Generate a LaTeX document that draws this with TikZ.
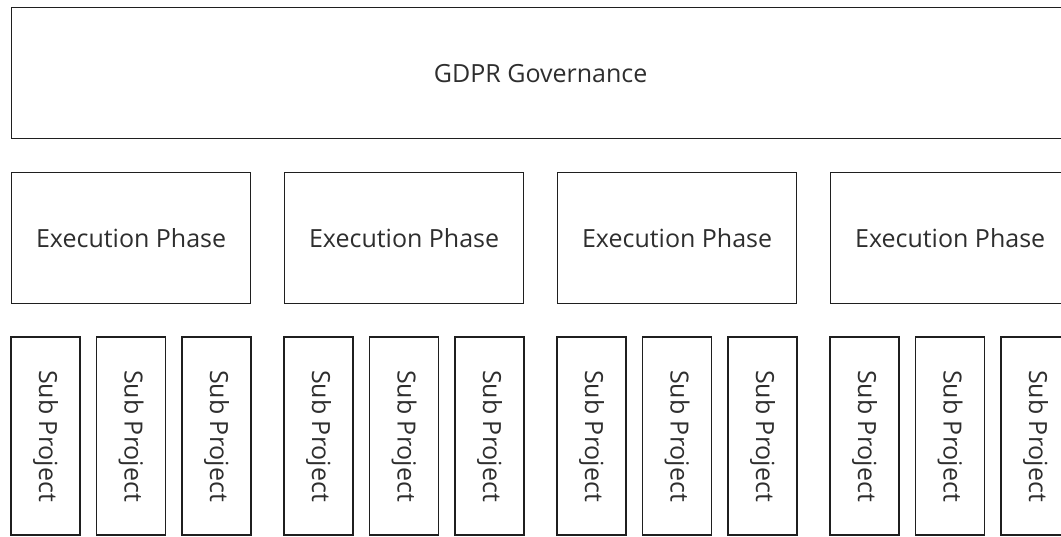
\documentclass[tikz,border=0pt]{standalone}
\usepackage{fontspec}
\setmainfont{Open Sans}
\begin{document}
\begin{tikzpicture}[x=1pt,y=-1pt,
  box/.style={draw=black!88, line width=1.3pt, fill=white, inner sep=0pt,
    font=\fontsize{25}{29}\selectfont, text=black!82},
]
\useasboundingbox (0,0) rectangle (1061,536);
\clip (0,0) rectangle (1061,536);
\node[box, minimum width=1058, minimum height=131, anchor=north west] (gov) at (11,7) {GDPR Governance};
\foreach \i in {0,1,2,3}{
  \node[box, minimum width=239, minimum height=131, anchor=north west] (ep\i) at ({11+273*\i},172) {Execution Phase};
  \foreach \j in {0,1,2}{
    \node[box, rotate=-90, minimum width=198, minimum height=69] (sp\i\j) at ({11+273*\i+85.5*\j+34.5},436) {Sub Project};
  }
}
\end{tikzpicture}
\end{document}
